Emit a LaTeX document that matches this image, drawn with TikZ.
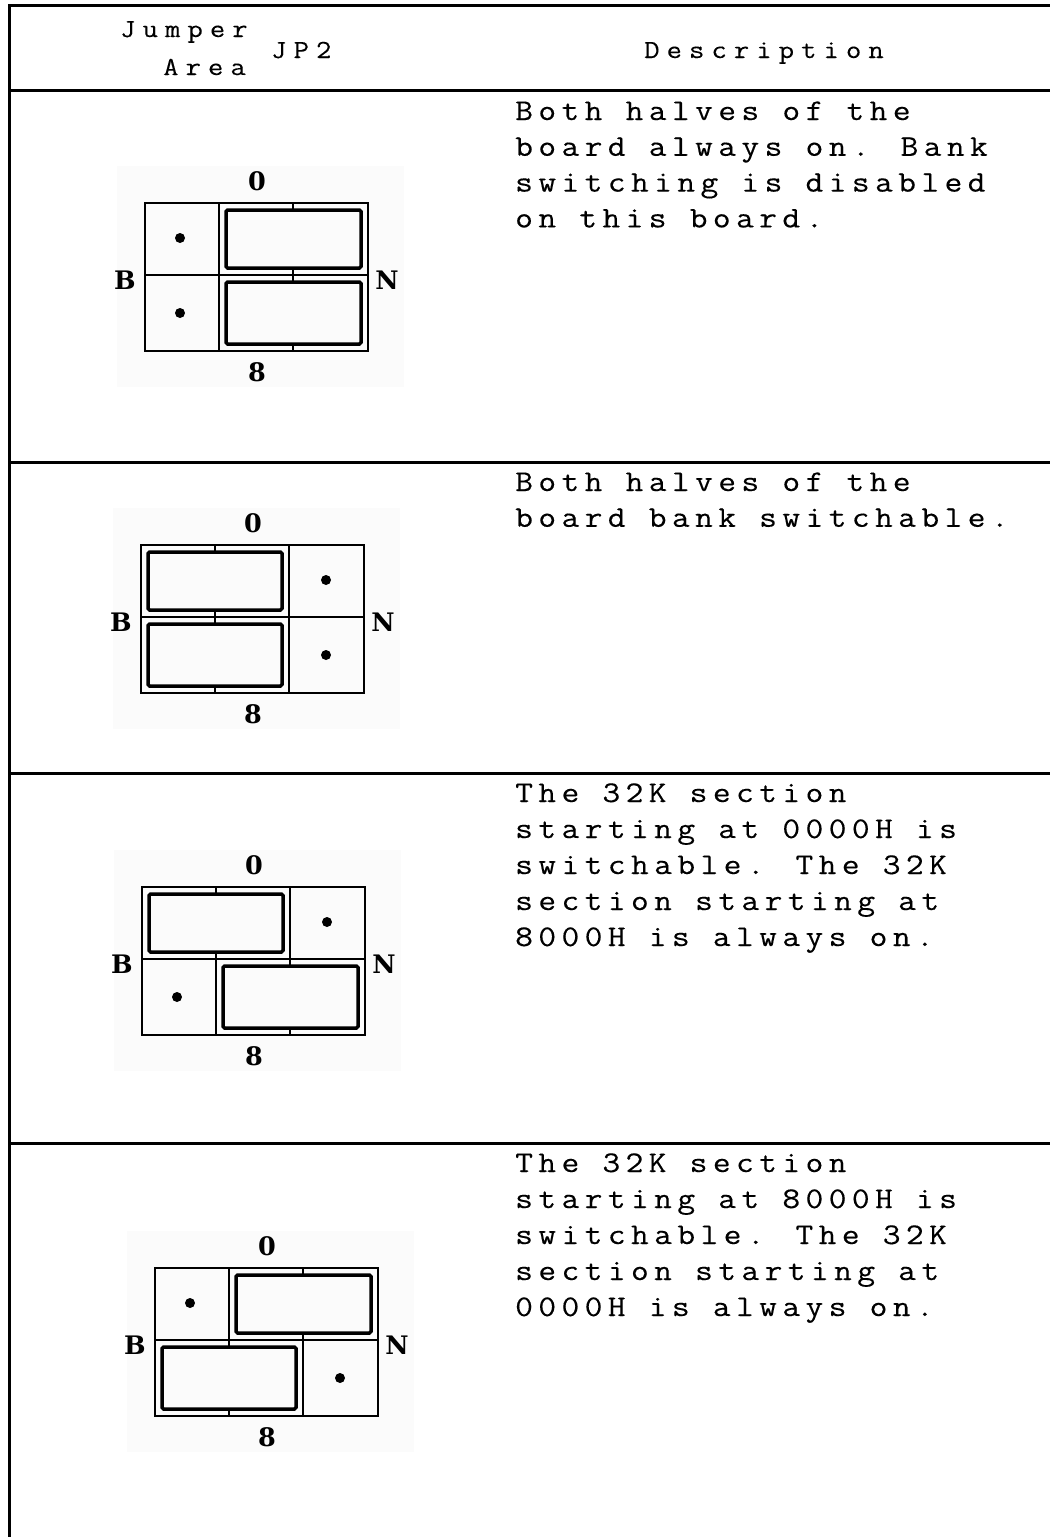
\documentclass[tikz,border=0pt]{standalone}
\usepackage{fontspec}
\newfontfamily\bodyfont[LetterSpace=18,FakeStretch=1.15,FakeBold=0.25]{Latin Modern Mono}
\newfontfamily\headfont[LetterSpace=27,FakeStretch=1.15,FakeBold=0.15]{Latin Modern Mono}
\newfontfamily\labfont{DejaVu Serif}
\definecolor{scan}{gray}{0.985}
\newcommand\jdframe[1]{%
  \fill[scanbg] (-28,-37) rectangle (259,184);
  \draw[gridline] (0,0) rectangle (223,148);
  \draw[gridline] (0,72) -- (223,72);
  \draw[gridline] (74,0) -- (74,148);
  \draw[gridline] (148,0) -- (148,148);
  \node[lab] (#1-top) at (112,-22) {0};
  \node[lab] (#1-bot) at (112,169) {8};
  \node[lab] (#1-left) at (-20,77) {B};
  \node[lab] (#1-right) at (242,77) {N};
}
% jumper over two cells: #1 first column (0 or 1), #2 row (0 or 1)
\newcommand\jmp[2]{%
  \ifnum#2=0 \def\jy{7}\def\jyy{65}\else\def\jy{79}\def\jyy{141}\fi
  \ifnum#1=0 \def\jx{7}\def\jxx{141}\else\def\jx{81}\def\jxx{216}\fi
  \draw[jumper] (\jx,\jy) rectangle (\jxx,\jyy);
}
% pin dot: #1 column (0,1,2), #2 row (0,1)
\newcommand\pin[2]{%
  \ifnum#2=0 \def\py{35}\else\def\py{110}\fi
  \ifcase#1 \def\px{35}\or\def\px{111}\or\def\px{185}\fi
  \fill (\px,\py) circle (5);
}
\begin{document}
\begin{tikzpicture}[x=1pt,y=-1pt,
  rule/.style={line width=3pt, line join=miter},
  gridline/.style={line width=2.5pt, line join=miter},
  jumper/.style={line width=3.5pt, rounded corners=1.5pt, fill=scan},
  scanbg/.style={fill=scan, draw=none},
  desc/.style={anchor=base west, inner sep=0pt, font=\bodyfont\fontsize{30}{34}\selectfont},
  head/.style={anchor=base west, inner sep=0pt, font=\headfont\fontsize{26}{30}\selectfont},
  lab/.style={inner sep=0pt, font=\labfont\bfseries\fontsize{25.5}{30}\selectfont}]
\useasboundingbox (0,0) rectangle (1050,1537);
\fill[white] (0,0) rectangle (1050,1537);

% table rules
\draw[rule] (9,1537) -- (9,5) -- (1050,5);
\draw[rule] (9,90) -- (1050,90);
\draw[rule] (9,462) -- (1050,462);
\draw[rule] (9,773) -- (1050,773);
\draw[rule] (9,1143) -- (1050,1143);

% header
\node[head] (hjumper) at (120,37) {Jumper};
\node[head] (harea) at (163,75) {Area};
\node[head] (hjp) at (271,58) {JP2};
\node[head] (hdesc) at (644,58) {Description};

% row 1
\begin{scope}[shift={(145,203)}]
  \jdframe{d1}
  \jmp{1}{0}\jmp{1}{1}
  \pin{0}{0}\pin{0}{1}
\end{scope}
\node[desc] (t1a) at (515,120) {Both halves of the};
\node[desc] (t1b) at (515,155.8) {board always on. Bank};
\node[desc] (t1c) at (515,191.6) {switching is disabled};
\node[desc] (t1d) at (515,227.4) {on this board.};

% row 2
\begin{scope}[shift={(141,545)}]
  \jdframe{d2}
  \jmp{0}{0}\jmp{0}{1}
  \pin{2}{0}\pin{2}{1}
\end{scope}
\node[desc] (t2a) at (515,491) {Both halves of the};
\node[desc] (t2b) at (515,526.8) {board bank switchable.};

% row 3
\begin{scope}[shift={(142,887)}]
  \jdframe{d3}
  \jmp{0}{0}\jmp{1}{1}
  \pin{2}{0}\pin{0}{1}
\end{scope}
\node[desc] (t3a) at (515,802) {The 32K section};
\node[desc] (t3b) at (515,838) {starting at 0000H is};
\node[desc] (t3c) at (515,874) {switchable. The 32K};
\node[desc] (t3d) at (515,910) {section starting at};
\node[desc] (t3e) at (515,946) {8000H is always on.};

% row 4
\begin{scope}[shift={(155,1268)}]
  \jdframe{d4}
  \jmp{1}{0}\jmp{0}{1}
  \pin{0}{0}\pin{2}{1}
\end{scope}
\node[desc] (t4a) at (515,1172) {The 32K section};
\node[desc] (t4b) at (515,1208) {starting at 8000H is};
\node[desc] (t4c) at (515,1244) {switchable. The 32K};
\node[desc] (t4d) at (515,1280) {section starting at};
\node[desc] (t4e) at (515,1316) {0000H is always on.};
\end{tikzpicture}
\end{document}
